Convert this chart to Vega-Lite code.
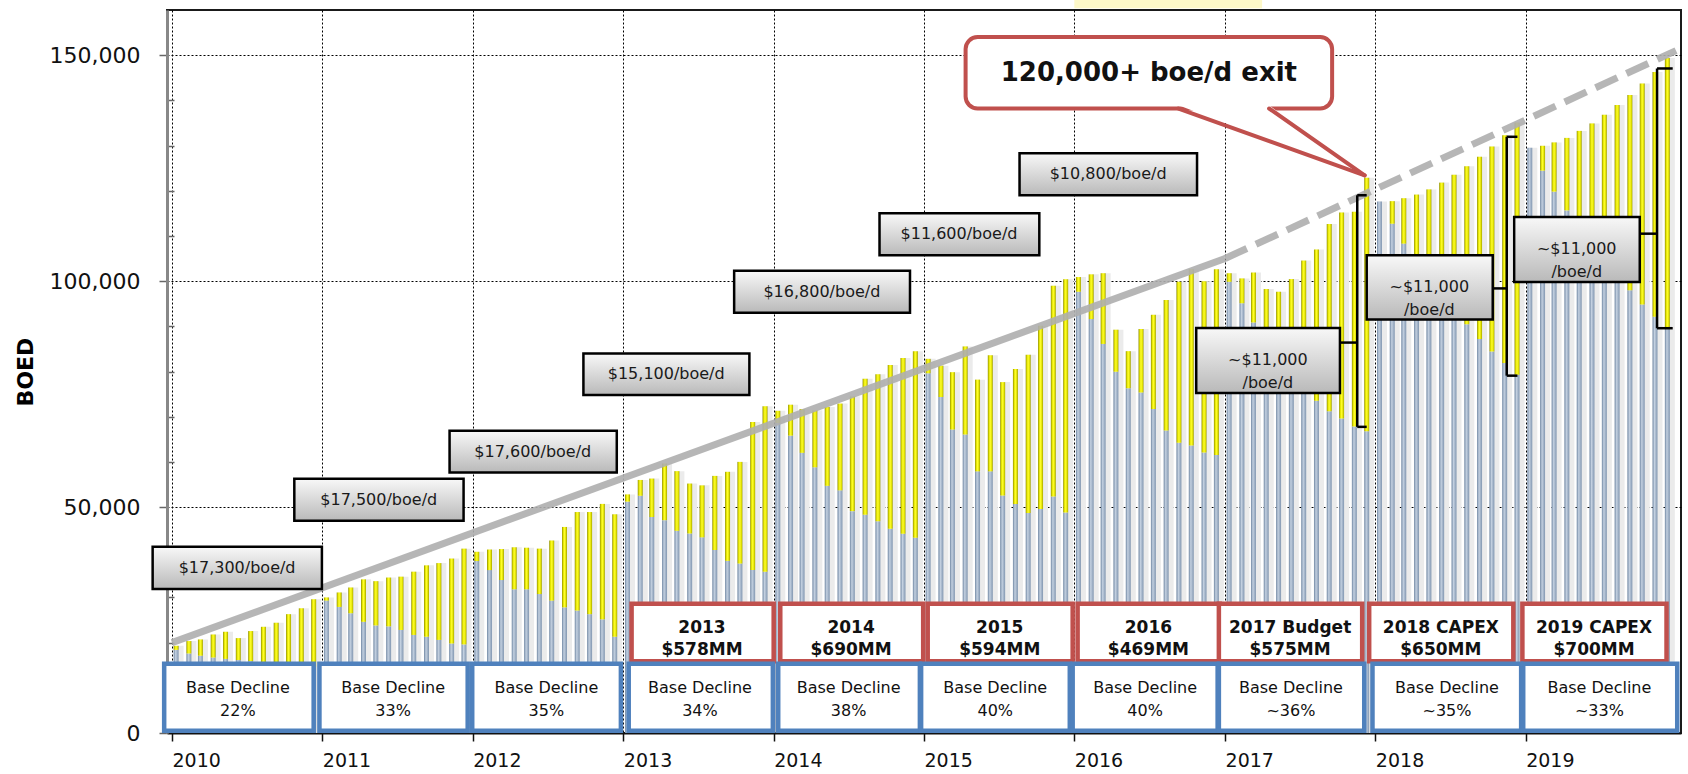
{
"$schema": "https://vega.github.io/schema/vega-lite/v6.json",
"width": 1514, "height": 723,
"autosize": {"type": "none"},
"padding": {"left": 167, "top": 10, "right": 7, "bottom": 41},
"background": "white",
"config": {"view": {"stroke": "#1a1a1a", "strokeWidth": 2}, "font": "DejaVu Sans"},
"datasets": {
"prod": [
{"m":"2010-01-11","total":19300,"base":18400},{"m":"2010-02-11","total":20350,"base":17600},{"m":"2010-03-11","total":20700,"base":17100},{"m":"2010-04-11","total":21800,"base":16700},{"m":"2010-05-11","total":22400,"base":16400},{"m":"2010-06-11","total":21000,"base":16150},{"m":"2010-07-11","total":22560,"base":15900},{"m":"2010-08-11","total":23500,"base":15650},{"m":"2010-09-11","total":24400,"base":15400},{"m":"2010-10-11","total":26300,"base":15150},{"m":"2010-11-11","total":27600,"base":14900},{"m":"2010-12-11","total":29600,"base":14650},
{"m":"2011-01-11","total":30000,"base":29300},{"m":"2011-02-11","total":31100,"base":27900},{"m":"2011-03-11","total":32200,"base":26500},{"m":"2011-04-11","total":34000,"base":24600},{"m":"2011-05-11","total":33600,"base":23800},{"m":"2011-06-11","total":34400,"base":23600},{"m":"2011-07-11","total":34600,"base":22800},{"m":"2011-08-11","total":35700,"base":21700},{"m":"2011-09-11","total":37100,"base":21300},{"m":"2011-10-11","total":37600,"base":20600},{"m":"2011-11-11","total":38600,"base":19800},{"m":"2011-12-11","total":40800,"base":19600},
{"m":"2012-01-11","total":40100,"base":38050},{"m":"2012-02-11","total":40600,"base":36050},{"m":"2012-03-11","total":40700,"base":33850},{"m":"2012-04-11","total":41100,"base":31800},{"m":"2012-05-11","total":41000,"base":31800},{"m":"2012-06-11","total":40800,"base":30750},{"m":"2012-07-11","total":42600,"base":29300},{"m":"2012-08-11","total":45600,"base":27800},{"m":"2012-09-11","total":48900,"base":27100},{"m":"2012-10-11","total":48900,"base":26300},{"m":"2012-11-11","total":50700,"base":25150},{"m":"2012-12-11","total":48400,"base":21300},
{"m":"2013-01-11","total":52800,"base":51200},{"m":"2013-02-11","total":56000,"base":52500},{"m":"2013-03-11","total":56300,"base":47800},{"m":"2013-04-11","total":59650,"base":47100},{"m":"2013-05-11","total":57950,"base":44750},{"m":"2013-06-11","total":55200,"base":44150},{"m":"2013-07-11","total":54800,"base":43300},{"m":"2013-08-11","total":56900,"base":40500},{"m":"2013-09-11","total":57800,"base":38100},{"m":"2013-10-11","total":60000,"base":37500},{"m":"2013-11-11","total":68800,"base":36050},{"m":"2013-12-11","total":72300,"base":35700},
{"m":"2014-01-11","total":71300,"base":68600},{"m":"2014-02-11","total":72650,"base":65800},{"m":"2014-03-11","total":71700,"base":62000},{"m":"2014-04-11","total":71400,"base":58800},{"m":"2014-05-11","total":72150,"base":54700},{"m":"2014-06-11","total":72900,"base":53700},{"m":"2014-07-11","total":74500,"base":49100},{"m":"2014-08-11","total":78400,"base":48300},{"m":"2014-09-11","total":79400,"base":46850},{"m":"2014-10-11","total":81450,"base":45200},{"m":"2014-11-11","total":83000,"base":44100},{"m":"2014-12-11","total":84500,"base":43200},
{"m":"2015-01-11","total":82800,"base":79600},{"m":"2015-02-11","total":81300,"base":74350},{"m":"2015-03-11","total":79850,"base":67150},{"m":"2015-04-11","total":85550,"base":66050},{"m":"2015-05-11","total":78200,"base":57900},{"m":"2015-06-11","total":83600,"base":57900},{"m":"2015-07-11","total":77650,"base":52550},{"m":"2015-08-11","total":80550,"base":50700},{"m":"2015-09-11","total":83700,"base":48700},{"m":"2015-10-11","total":90100,"base":49550},{"m":"2015-11-11","total":99000,"base":52350},{"m":"2015-12-11","total":100400,"base":48800},
{"m":"2016-01-11","total":100900,"base":97650},{"m":"2016-02-11","total":101500,"base":91600},{"m":"2016-03-11","total":101750,"base":86100},{"m":"2016-04-11","total":89250,"base":79950},{"m":"2016-05-11","total":84500,"base":76300},{"m":"2016-06-11","total":89400,"base":75350},{"m":"2016-07-11","total":92550,"base":71700},{"m":"2016-08-11","total":95850,"base":66950},{"m":"2016-09-11","total":99850,"base":64250},{"m":"2016-10-11","total":102650,"base":63650},{"m":"2016-11-11","total":100000,"base":62050},{"m":"2016-12-11","total":102650,"base":61500},
{"m":"2017-01-11","total":101750,"base":99850},{"m":"2017-02-11","total":100600,"base":95100},{"m":"2017-03-11","total":101900,"base":90850},{"m":"2017-04-11","total":98250,"base":87400},{"m":"2017-05-11","total":97650,"base":84000},{"m":"2017-06-11","total":100450,"base":80500},{"m":"2017-07-11","total":104550,"base":77000},{"m":"2017-08-11","total":107000,"base":73550},{"m":"2017-09-11","total":112650,"base":71200},{"m":"2017-10-11","total":115200,"base":69600},{"m":"2017-11-11","total":115350,"base":67850},{"m":"2017-12-11","total":122900,"base":66800},
{"m":"2018-01-11","total":117600,"base":117600},{"m":"2018-02-11","total":117700,"base":112700},{"m":"2018-03-11","total":118350,"base":108300},{"m":"2018-04-11","total":119150,"base":104700},{"m":"2018-05-11","total":120300,"base":101100},{"m":"2018-06-11","total":121800,"base":97600},{"m":"2018-07-11","total":123550,"base":94000},{"m":"2018-08-11","total":125400,"base":90450},{"m":"2018-09-11","total":127500,"base":87200},{"m":"2018-10-11","total":129800,"base":84400},{"m":"2018-11-11","total":132300,"base":81900},{"m":"2018-12-11","total":135100,"base":79300},
{"m":"2019-01-11","total":129500,"base":129500},{"m":"2019-02-11","total":129950,"base":124450},{"m":"2019-03-11","total":130700,"base":119800},{"m":"2019-04-11","total":131700,"base":115650},{"m":"2019-05-11","total":133250,"base":112100},{"m":"2019-06-11","total":134900,"base":108600},{"m":"2019-07-11","total":136800,"base":105100},{"m":"2019-08-11","total":139000,"base":101500},{"m":"2019-09-11","total":141200,"base":98000},{"m":"2019-10-11","total":143750,"base":94800},{"m":"2019-11-11","total":146300,"base":92100},{"m":"2019-12-11","total":149400,"base":89500}
],
"trend": [
{"x":"2010-01-01","x2":"2017-01-01","y":20000,"y2":105000,"seg":"solid"},
{"x":"2017-01-01","x2":"2020-01-01","y":105000,"y2":151000,"seg":"dashed"}
],
"strip": [
{"x1":"2016-01-01","x2":"2017-04-01"}
],
"boxes": [
{"x1":"2009-11-15","x2":"2010-12-31","y1":41200,"y2":31850,"tx":"2010-06-08","ty":36525,"label":"$17,300/boe/d"},
{"x1":"2010-10-25","x2":"2011-12-10","y1":56260,"y2":46960,"tx":"2011-05-18","ty":51610,"label":"$17,500/boe/d"},
{"x1":"2011-11-06","x2":"2012-12-16","y1":66870,"y2":57670,"tx":"2012-05-26","ty":62270,"label":"$17,600/boe/d"},
{"x1":"2012-09-26","x2":"2013-11-03","y1":84000,"y2":74800,"tx":"2013-04-15","ty":79400,"label":"$15,100/boe/d"},
{"x1":"2013-09-27","x2":"2014-11-28","y1":102300,"y2":93000,"tx":"2014-04-28","ty":97650,"label":"$16,800/boe/d"},
{"x1":"2014-09-15","x2":"2015-10-08","y1":115000,"y2":105700,"tx":"2015-03-27","ty":110350,"label":"$11,600/boe/d"},
{"x1":"2015-08-21","x2":"2016-10-25","y1":128300,"y2":119000,"tx":"2016-03-23","ty":123650,"label":"$10,800/boe/d"},
{"x1":"2016-10-23","x2":"2017-10-07","y1":89650,"y2":75250,"tx":"2017-04-15","ty":82450,"label":"~$11,000\n/boe/d"},
{"x1":"2017-12-11","x2":"2018-10-13","y1":105700,"y2":91500,"tx":"2018-05-12","ty":98600,"label":"~$11,000\n/boe/d"},
{"x1":"2018-12-04","x2":"2019-10-05","y1":114200,"y2":99800,"tx":"2019-05-05","ty":107000,"label":"~$11,000\n/boe/d"}
],
"capex": [
{"x1":"2013-01-21","x2":"2014-01-01","tx":"2013-07-11","label":"2013\n$578MM"},
{"x1":"2014-01-17","x2":"2014-12-30","tx":"2014-07-08","label":"2014\n$690MM"},
{"x1":"2015-01-10","x2":"2015-12-28","tx":"2015-07-04","label":"2015\n$594MM"},
{"x1":"2016-01-09","x2":"2016-12-19","tx":"2016-06-29","label":"2016\n$469MM"},
{"x1":"2016-12-17","x2":"2017-11-30","tx":"2017-06-08","label":"2017 Budget\n$575MM"},
{"x1":"2017-12-17","x2":"2018-12-02","tx":"2018-06-09","label":"2018 CAPEX\n$650MM"},
{"x1":"2018-12-24","x2":"2019-12-09","tx":"2019-06-16","label":"2019 CAPEX\n$700MM"}
],
"decline": [
{"x1":"2009-12-13","x2":"2010-12-11","tx":"2010-06-10","label":"Base Decline\n22%"},
{"x1":"2010-12-25","x2":"2011-12-20","tx":"2011-06-22","label":"Base Decline\n33%"},
{"x1":"2011-12-31","x2":"2012-12-26","tx":"2012-06-28","label":"Base Decline\n35%"},
{"x1":"2013-01-14","x2":"2013-12-30","tx":"2013-07-06","label":"Base Decline\n34%"},
{"x1":"2014-01-12","x2":"2014-12-22","tx":"2014-07-02","label":"Base Decline\n38%"},
{"x1":"2014-12-25","x2":"2015-12-21","tx":"2015-06-23","label":"Base Decline\n40%"},
{"x1":"2015-12-28","x2":"2016-12-14","tx":"2016-06-21","label":"Base Decline\n40%"},
{"x1":"2016-12-17","x2":"2017-12-05","tx":"2017-06-10","label":"Base Decline\n~36%"},
{"x1":"2017-12-25","x2":"2018-12-21","tx":"2018-06-24","label":"Base Decline\n~35%"},
{"x1":"2018-12-26","x2":"2020-01-04","tx":"2019-06-29","label":"Base Decline\n~33%"}
],
"callout": [
{"x1":"2015-04-12","x2":"2017-09-18","y1":154000,"y2":138200,"tx":"2016-06-30","ty":146100,"label":"120,000+ boe/d exit"}
],
"pointer": [
{"x":"2016-09-10","top":138900,"bot":138900},
{"x":"2017-04-18","top":138900,"bot":131285},
{"x":"2017-12-06","top":123400,"bot":123400}
],
"pointerEdges": [
{"x":"2016-09-10","x2":"2017-12-06","y":138200,"y2":123400},
{"x":"2017-04-18","x2":"2017-12-06","y":138200,"y2":123400}
],
"brackets": [
{"x":"2017-11-18","x2":"2017-11-18","y":119000,"y2":67750},
{"x":"2017-11-18","x2":"2017-12-11","y":119000,"y2":119000},
{"x":"2017-11-18","x2":"2017-12-11","y":67750,"y2":67750},
{"x":"2017-10-07","x2":"2017-11-18","y":86400,"y2":86400},
{"x":"2018-11-16","x2":"2018-11-16","y":131940,"y2":79080},
{"x":"2018-11-16","x2":"2018-12-12","y":131940,"y2":131940},
{"x":"2018-11-16","x2":"2018-12-12","y":79080,"y2":79080},
{"x":"2018-10-13","x2":"2018-11-16","y":98390,"y2":98390},
{"x":"2019-11-16","x2":"2019-11-16","y":147060,"y2":89580},
{"x":"2019-11-16","x2":"2019-12-24","y":147060,"y2":147060},
{"x":"2019-11-16","x2":"2019-12-24","y":89580,"y2":89580},
{"x":"2019-10-05","x2":"2019-11-16","y":110500,"y2":110500}
]
},
"layer": [
{
"data": {"name": "prod"},
"mark": {"type": "bar", "size": 9, "xOffset": 3, "color": "#ebebeb"},
"encoding": {
"x": {"field": "m", "type": "temporal", "title": null,
 "scale": {"type": "utc", "domain": [{"year": 2010, "month": 1, "date": 1, "utc": true}, {"year": 2020, "month": 1, "date": 1, "utc": true}]},
 "axis": {"title": null,
  "values": [{"year":2010,"utc":true},{"year":2011,"utc":true},{"year":2012,"utc":true},{"year":2013,"utc":true},{"year":2014,"utc":true},{"year":2015,"utc":true},{"year":2016,"utc":true},{"year":2017,"utc":true},{"year":2018,"utc":true},{"year":2019,"utc":true}],
  "format": "%Y", "labelAlign": "left", "labelBaseline": "top", "labelFontSize": 19, "labelColor": "#111", "labelPadding": 10, "labelFlush": false,
  "tickSize": 8, "tickColor": "#111", "tickWidth": 1.5, "domainColor": "#111", "domainWidth": 2,
  "grid": true, "gridColor": "#000", "gridDash": [2, 2], "gridWidth": 1}},
"y": {"field": "total", "type": "quantitative", "title": "BOED",
 "scale": {"domain": [0, 160000], "nice": false},
 "axis": {"title": "BOED", "titleFontSize": 22, "titleFontWeight": "bold", "titleColor": "#000", "titlePadding": 12,
  "values": [0,10000,20000,30000,40000,50000,60000,70000,80000,90000,100000,110000,120000,130000,140000,150000],
  "labelExpr": "datum.value % 50000 === 0 ? format(datum.value, ',') : ''",
  "labelFontSize": 22, "labelColor": "#111", "labelPadding": 19,
  "tickSize": {"condition": {"test": "datum.value % 50000 === 0", "value": 8}, "value": -7},
  "tickColor": "#666", "tickWidth": 1.5, "domainColor": "#888", "domainWidth": 3,
  "grid": true, "gridOpacity": {"condition": {"test": "datum.value % 50000 === 0 && datum.value > 0", "value": 1}, "value": 0},
  "gridColor": "#000", "gridDash": [2, 2], "gridWidth": 1}}
}
},
{
"data": {"name": "strip"},
"mark": {"type": "rect", "fill": "#fdf8c8"},
"encoding": {
"x": {"field": "x1", "type": "temporal"},
"x2": {"field": "x2"},
"y": {"datum": 160400, "type": "quantitative"},
"y2": {"datum": 163500}
}
},
{
"data": {"name": "prod"},
"mark": {"type": "bar", "size": 5, "fill": {"gradient": "linear", "x1": 0, "y1": 0, "x2": 1, "y2": 0, "stops": [{"offset": 0, "color": "#6f86a2"}, {"offset": 0.4, "color": "#c3d0e0"}, {"offset": 1, "color": "#8196b0"}]}},
"encoding": {
"x": {"field": "m", "type": "temporal"},
"y": {"field": "base", "type": "quantitative"}
}
},
{
"data": {"name": "prod"},
"mark": {"type": "bar", "size": 5, "fill": {"gradient": "linear", "x1": 0, "y1": 0, "x2": 1, "y2": 0, "stops": [{"offset": 0, "color": "#8a8a00"}, {"offset": 0.25, "color": "#e2e200"}, {"offset": 0.5, "color": "#ffff2a"}, {"offset": 0.8, "color": "#dddd00"}, {"offset": 1, "color": "#999900"}]}},
"encoding": {
"x": {"field": "m", "type": "temporal"},
"y": {"field": "total", "type": "quantitative"},
"y2": {"field": "base"}
}
},
{
"data": {"name": "trend"},
"transform": [{"filter": "datum.seg === 'solid'"}],
"mark": {"type": "rule", "strokeWidth": 7, "color": "#aeaeae", "opacity": 0.9, "strokeCap": "butt"},
"encoding": {
"x": {"field": "x", "type": "temporal"},
"x2": {"field": "x2"},
"y": {"field": "y", "type": "quantitative"},
"y2": {"field": "y2"}
}
},
{
"data": {"name": "trend"},
"transform": [{"filter": "datum.seg === 'dashed'"}],
"mark": {"type": "rule", "strokeWidth": 7, "color": "#aeaeae", "opacity": 0.9, "strokeCap": "butt", "strokeDash": [24, 10]},
"encoding": {
"x": {"field": "x", "type": "temporal"},
"x2": {"field": "x2"},
"y": {"field": "y", "type": "quantitative"},
"y2": {"field": "y2"}
}
},
{
"data": {"name": "boxes"},
"mark": {"type": "rect", "fill": {"gradient": "linear", "x1": 0, "y1": 0, "x2": 0, "y2": 1, "stops": [{"offset": 0, "color": "#f8f8f8"}, {"offset": 1, "color": "#b9b9b9"}]}, "stroke": "#000", "strokeWidth": 2.5},
"encoding": {
"x": {"field": "x1", "type": "temporal"},
"x2": {"field": "x2"},
"y": {"field": "y1", "type": "quantitative"},
"y2": {"field": "y2"}
}
},
{
"data": {"name": "boxes"},
"mark": {"type": "text", "fontSize": 16, "color": "#1a1a1a", "lineBreak": "\n", "lineHeight": 23, "align": "center", "baseline": "middle"},
"encoding": {
"x": {"field": "tx", "type": "temporal"},
"y": {"field": "ty", "type": "quantitative"},
"text": {"field": "label"}
}
},
{
"data": {"name": "brackets"},
"mark": {"type": "rule", "strokeWidth": 2.5, "color": "#000"},
"encoding": {
"x": {"field": "x", "type": "temporal"},
"x2": {"field": "x2"},
"y": {"field": "y", "type": "quantitative"},
"y2": {"field": "y2"}
}
},
{
"data": {"name": "callout"},
"mark": {"type": "rect", "fill": "white", "stroke": "#c0504d", "strokeWidth": 4, "cornerRadius": 12},
"encoding": {
"x": {"field": "x1", "type": "temporal"},
"x2": {"field": "x2"},
"y": {"field": "y1", "type": "quantitative"},
"y2": {"field": "y2"}
}
},
{
"data": {"name": "pointer"},
"mark": {"type": "area", "color": "white", "opacity": 1},
"encoding": {
"x": {"field": "x", "type": "temporal"},
"y": {"field": "top", "type": "quantitative"},
"y2": {"field": "bot"}
}
},
{
"data": {"name": "pointerEdges"},
"mark": {"type": "rule", "strokeWidth": 4, "color": "#c0504d", "strokeCap": "round"},
"encoding": {
"x": {"field": "x", "type": "temporal"},
"x2": {"field": "x2"},
"y": {"field": "y", "type": "quantitative"},
"y2": {"field": "y2"}
}
},
{
"data": {"name": "callout"},
"mark": {"type": "text", "fontSize": 26, "fontWeight": "bold", "color": "#111", "align": "center", "baseline": "middle"},
"encoding": {
"x": {"field": "tx", "type": "temporal"},
"y": {"field": "ty", "type": "quantitative"},
"text": {"field": "label"}
}
},
{
"data": {"name": "capex"},
"mark": {"type": "rect", "fill": "white", "stroke": "#c0504d", "strokeWidth": 4.5},
"encoding": {
"x": {"field": "x1", "type": "temporal"},
"x2": {"field": "x2"},
"y": {"datum": 28600, "type": "quantitative"},
"y2": {"datum": 15900}
}
},
{
"data": {"name": "capex"},
"mark": {"type": "text", "fontSize": 17, "fontWeight": "bold", "color": "#111", "lineBreak": "\n", "lineHeight": 22, "align": "center", "baseline": "middle"},
"encoding": {
"x": {"field": "tx", "type": "temporal"},
"y": {"datum": 23300, "type": "quantitative"},
"text": {"field": "label"}
}
},
{
"data": {"name": "decline"},
"mark": {"type": "rect", "fill": "white", "stroke": "#4f81bd", "strokeWidth": 4.5},
"encoding": {
"x": {"field": "x1", "type": "temporal"},
"x2": {"field": "x2"},
"y": {"datum": 15300, "type": "quantitative"},
"y2": {"datum": 500}
}
},
{
"data": {"name": "decline"},
"mark": {"type": "text", "fontSize": 16, "color": "#111", "lineBreak": "\n", "lineHeight": 23, "align": "center", "baseline": "middle"},
"encoding": {
"x": {"field": "tx", "type": "temporal"},
"y": {"datum": 10000, "type": "quantitative"},
"text": {"field": "label"}
}
}
]
}
